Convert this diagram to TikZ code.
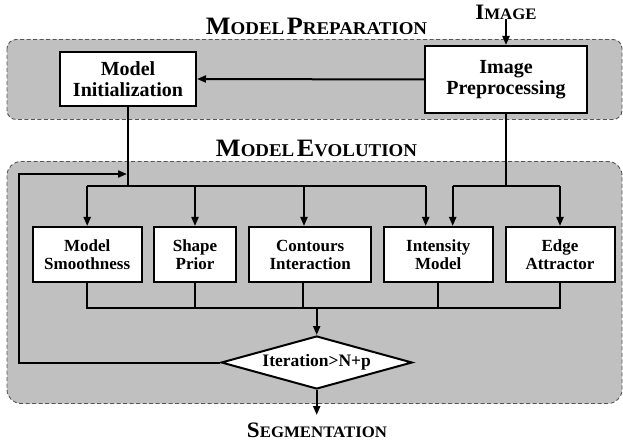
\documentclass[tikz,border=0pt]{standalone}
\usepackage{fontspec}
\setmainfont{Liberation Serif}[BoldFont={Liberation Serif Bold}]
\newfontfamily\boxfont{Liberation Serif Bold}
\newfontfamily\titlefont{Liberation Serif Bold}[FakeStretch=1.05]
\usetikzlibrary{shapes.geometric,arrows.meta}
\definecolor{panelgray}{RGB}{192,192,192}
\definecolor{dashgray}{RGB}{85,85,85}
\newcommand{\scw}[4]{{\fontsize{#1}{#1}\selectfont #3}{\fontsize{#2}{#2}\selectfont #4}}
\begin{document}
\begin{tikzpicture}[x=1pt,y=-1pt,
  panel/.style={fill=panelgray, draw=dashgray, dash pattern=on 4pt off 2.5pt, line width=0.9pt},
  box/.style={draw, fill=white, line width=2pt, inner sep=0pt, align=center, font=\boxfont\fontsize{17}{18}\selectfont},
  bigbox/.style={box, font=\boxfont\fontsize{20}{21}\selectfont},
  conn/.style={line width=2pt},
  arr/.style={conn, -{Triangle[length=9pt,width=7pt]}},
  title/.style={font=\titlefont, inner sep=0pt},
]
\useasboundingbox (0,0) rectangle (623,443);
% panels
\draw[panel, rounded corners=9pt] (7,39.5) rectangle (622,119.5);
\draw[panel, rounded corners=14pt] (7,161.5) rectangle (622,403.5);
% titles
\node[title] (imgt) at (506,12) {\scw{22}{16}{I}{MAGE}};
\node[title] (prept) at (316.5,26.5) {\scw{25}{18}{M}{ODEL} \scw{25}{18}{P}{REPARATION}};
\node[title] (evolt) at (316.5,148) {\scw{25}{18}{M}{ODEL} \scw{25}{18}{E}{VOLUTION}};
\node[title] (segt) at (317,430) {\scw{22}{16}{S}{EGMENTATION}};
% top boxes
\node[bigbox, minimum width=136pt, minimum height=54pt] (init) at (128,79) {Model\\Initialization};
\node[bigbox, minimum width=162pt, minimum height=67pt] (pre) at (506,79.5) {Image\\Preprocessing};
% lower boxes
\node[box, minimum width=109pt, minimum height=55pt] (ms) at (87.2,254.5) {Model\\Smoothness};
\node[box, minimum width=82pt, minimum height=55pt] (sp) at (195,254.5) {Shape\\Prior};
\node[box, minimum width=122pt, minimum height=55pt] (ci) at (310.2,254.5) {Contours\\Interaction};
\node[box, minimum width=109pt, minimum height=55pt] (im) at (438.3,254.5) {Intensity\\Model};
\node[box, minimum width=109pt, minimum height=55pt] (ea) at (560,254.5) {Edge\\Attractor};
% diamond
\node[diamond, draw, fill=white, line width=2pt, inner sep=0pt, aspect=3.6,
      minimum width=191pt, minimum height=53pt,
      font=\boxfont\fontsize{17.5}{18}\selectfont] (dia) at (316.7,362.5) {Iteration>N+p};
% coordinates
\coordinate (jl) at (128,186.5);
\coordinate (jr) at (506,186.5);
\coordinate (fbc) at (19.3,174);
\coordinate (fbt) at (127,174);
\coordinate (cy) at (0,308);
\coordinate (segend) at (316.7,415);
% top connectors
\draw[arr] (imgt.south) -- (pre.north);
\draw[arr] (pre.west) -- (init.east);
\draw[conn] (init.south) -- (jl);
\draw[conn] (pre.south) -- (jr);
% distribution left
\draw[conn] (ms.north |- jl) -- ([xshift=-12.6pt]im.north |- jl);
\draw[arr] (ms.north |- jl) -- (ms.north);
\draw[arr] (sp.north |- jl) -- (sp.north);
\draw[arr] ([xshift=-6.2pt]ci.north |- jl) -- ([xshift=-6.2pt]ci.north);
\draw[arr] ([xshift=-12.6pt]im.north |- jl) -- ([xshift=-12.6pt]im.north);
% distribution right
\draw[conn] ([xshift=14.4pt]im.north |- jr) -- (ea.north |- jr);
\draw[arr] ([xshift=14.4pt]im.north |- jr) -- ([xshift=14.4pt]im.north);
\draw[arr] (ea.north |- jr) -- (ea.north);
% collection
\draw[conn] (ms.south) -- (ms.south |- cy) -- (ea.south |- cy) -- (ea.south);
\draw[conn] (sp.south) -- (sp.south |- cy);
\draw[conn] ([xshift=-7pt]ci.south) -- ([xshift=-7pt]ci.south |- cy);
\draw[conn] (im.south) -- (im.south |- cy);
\draw[arr] (dia.north |- cy) -- (dia.north);
% feedback
\draw[arr] (dia.west) -| (fbc) -- (fbt);
% output
\draw[arr] (dia.south) -- (segend);
\end{tikzpicture}
\end{document}
